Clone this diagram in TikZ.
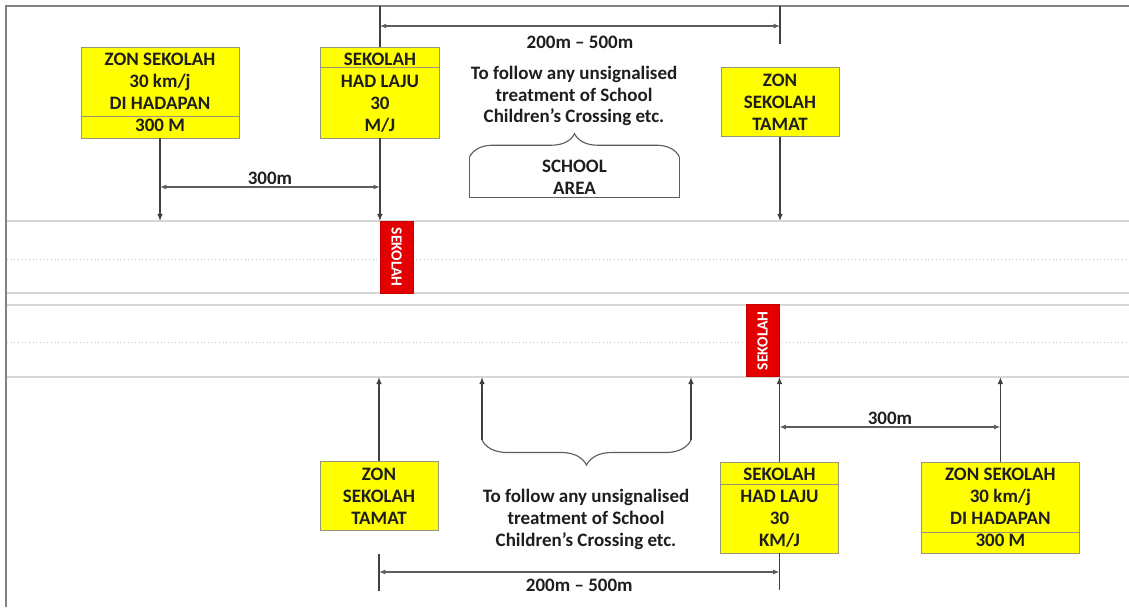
\documentclass[tikz,border=0pt]{standalone}
\usepackage{fontspec}
\setmainfont{Carlito}
\usepackage{graphicx}
\usetikzlibrary{arrows.meta,positioning,calc,decorations.pathreplacing}
\definecolor{signyel}{RGB}{255,255,0}
\definecolor{signbdr}{RGB}{150,150,120}
\definecolor{arrclr}{RGB}{64,64,64}
\definecolor{roadclr}{RGB}{215,215,215}
\definecolor{laneclr}{RGB}{195,195,195}
\definecolor{frameclr}{RGB}{130,130,130}
\definecolor{mrkred}{RGB}{228,0,0}
\definecolor{txtclr}{RGB}{30,30,30}
\newcommand\signfont{\fontsize{13.5}{15.6}\selectfont\bfseries}
\newcommand\mrkfont{\fontsize{11}{12}\selectfont\bfseries}
\tikzset{
  %% yellow road signs
  sgn/.style={rectangle,draw=signbdr,fill=signyel,line width=0.6pt,
    font=\signfont,align=center,text=txtclr,inner sep=0pt},
  sgnw/.style={sgn,minimum width=3.95cm,minimum height=2.275cm},
  sgnn/.style={sgn,minimum width=2.95cm,minimum height=2.275cm},
  sgnt/.style={sgn,minimum width=2.95cm,minimum height=1.725cm},
  sgnln/.style={draw=signbdr,line width=0.6pt},
  %% red SEKOLAH road marking
  mrk/.style={rectangle,fill=mrkred,draw=mrkred!85!black,line width=0.4pt,
    minimum width=0.825cm,minimum height=1.8cm,inner sep=0pt,
    font=\mrkfont,text=white},
  %% road edges and lane lines
  road/.style={draw=roadclr,line width=1.6pt},
  lane/.style={draw=laneclr,line width=0.6pt,dotted},
  frm/.style={draw=frameclr,line width=1.4pt},
  %% arrows
  arr/.style={-{Latex[length=5pt,width=4pt]},line width=0.9pt,color=arrclr},
  darr/.style={{Latex[length=4.5pt,width=3.6pt]}-{Latex[length=4.5pt,width=3.6pt]},
    line width=0.9pt,color=arrclr!85},
  lnk/.style={line width=0.9pt,color=arrclr},
  bbox/.style={draw=arrclr!85,line width=0.8pt},
  lbl/.style={font=\signfont,text=txtclr,inner sep=1pt},
}

\begin{document}
\begin{tikzpicture}[x=0.025cm,y=-0.025cm,
  every node/.style={font=\signfont,text=txtclr,align=center}]

  \useasboundingbox (0,0) rectangle (1129,607);
  \fill[white] (0,0) rectangle (1129,607);

  %% frame
  \draw[frm] (6,607) -- (6,6) -- (1129,6);

  %% carriageways
  \draw[road] (7,221) -- (1129,221);
  \draw[lane] (7,259) -- (1129,259);
  \draw[road] (7,293) -- (1129,293);
  \draw[road] (7,305) -- (1129,305);
  \draw[lane] (7,342) -- (1129,342);
  \draw[road] (7,377) -- (1129,377);

  %% reference levels
  \coordinate (ftop) at (0,6);
  \coordinate (ut)   at (0,221);
  \coordinate (lb)   at (0,377);
  \coordinate (dta)  at (0,26);
  \coordinate (d3a)  at (0,187);
  \coordinate (d3b)  at (0,427);
  \coordinate (d5)   at (0,572);

  %% Top side signs
  \node[sgnw] (zsa) at (160,92.5) {ZON SEKOLAH\\30 km/j\\DI HADAPAN\\300 M};
  \node[sgnn,right=2.025cm of zsa] (hla) {SEKOLAH\\HAD LAJU\\30\\M/J};
  \node[sgnt,anchor=south] (tma) at (780,137) {ZON\\SEKOLAH\\TAMAT};
  \draw[sgnln] ([yshift=0.55cm]zsa.south west) -- ([yshift=0.55cm]zsa.south east);
  \draw[sgnln] ([yshift=-0.525cm]hla.north west) -- ([yshift=-0.525cm]hla.north east);

  %% Bottom side signs
  \node[sgnt] (tmb) at (379,496) {ZON\\SEKOLAH\\TAMAT};
  \node[sgnn] (hlb) at (779.5,507.5) {SEKOLAH\\HAD LAJU\\30\\KM/J};
  \node[sgnw,right=2.05cm of hlb] (zsb) {ZON SEKOLAH\\30 km/j\\DI HADAPAN\\300 M};
  \draw[sgnln] ([yshift=-0.575cm]hlb.north west) -- ([yshift=-0.575cm]hlb.north east);
  \draw[sgnln] ([yshift=0.525cm]zsb.south west) -- ([yshift=0.525cm]zsb.south east);

  %% road markings
  \node[mrk,anchor=north west] (mka) at (hla.south |- ut) {\rotatebox{-90}{SEKOLAH}};
  \node[mrk,anchor=south east] (mkb) at (hlb.north |- lb) {\rotatebox{90}{SEKOLAH}};

  %% notes
  \node (tra) at (574,96) {To follow any unsignalised\\treatment of School\\Children's Crossing etc.};
  \node (trb) at (586,519) {To follow any unsignalised\\treatment of School\\Children's Crossing etc.};
  \node[minimum width=5.225cm,minimum height=1cm,inner sep=0pt] (area) at (574.5,177) {SCHOOL\\AREA};

  %% Top side arrows
  \draw[arr] (zsa.south) -- (zsa.south |- ut);
  \draw[lnk] (hla.north |- ftop) -- (hla.north);
  \draw[arr] (hla.south) -- (hla.south |- ut);
  \draw[arr] (tma.south) -- (tma.south |- ut);
  \draw[lnk] (tma.north |- ftop) -- ([yshift=0.575cm]tma.north);

  %% Top side dimensions
  \draw[darr] (hla.north |- dta) -- (tma.north |- dta)
    node[midway,below=0.2cm,lbl]{200m -- 500m};
  \draw[darr] (zsa.south |- d3a) -- (hla.south |- d3a)
    node[midway,above,lbl]{300m};

  %% school area bracket
  \draw[bbox,decorate,decoration={brace,amplitude=0.575cm}]
    (area.north west) -- (area.north east);
  \draw[bbox] (area.north west) -- (area.south west) -- (area.south east) -- (area.north east);

  %% Bottom side arrows
  \coordinate (bra) at (482,440);
  \coordinate (brb) at (691,440);
  \draw[arr] (bra) -- (bra |- lb);
  \draw[arr] (brb) -- (brb |- lb);
  \draw[bbox,decorate,decoration={brace,amplitude=0.625cm}] (brb) -- (bra);
  \draw[arr] (tmb.north) -- (tmb.north |- lb);
  \draw[arr] (hlb.north) -- (hlb.north |- lb);
  \draw[arr] (zsb.north) -- (zsb.north |- lb);

  %% Bottom side dimensions
  \draw[darr] (hlb.north |- d3b) -- (zsb.north |- d3b)
    node[midway,above,lbl]{300m};
  \draw[lnk] ([yshift=-0.575cm]tmb.south) -- ([yshift=-1.5cm]tmb.south);
  \draw[lnk] (hlb.south) -- ([yshift=-0.925cm]hlb.south);
  \draw[darr] (tmb.south |- d5) -- (hlb.south |- d5)
    node[midway,below=0.12cm,lbl]{200m -- 500m};

\end{tikzpicture}
\end{document}
